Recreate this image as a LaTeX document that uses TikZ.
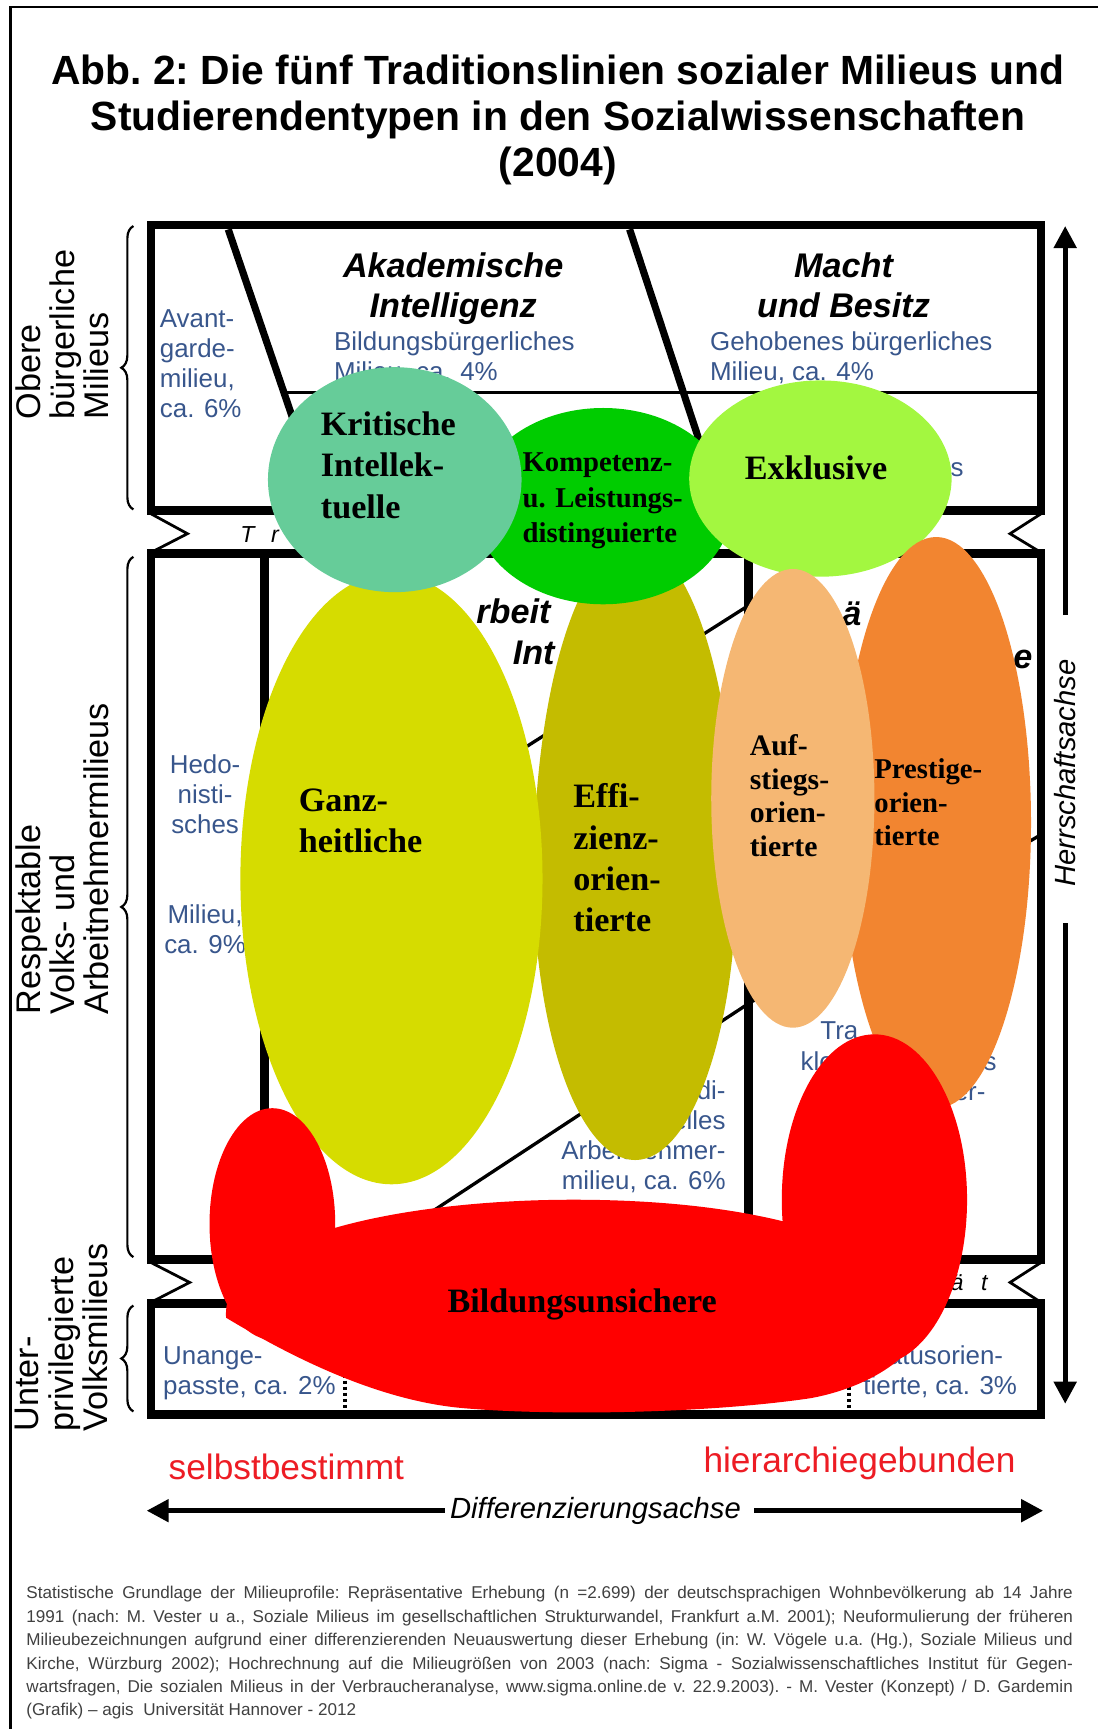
\documentclass[tikz,border=0pt]{standalone}
\usepackage{xcolor}
\usepackage{fontspec}
\usepackage{tikz}
\usetikzlibrary{arrows.meta,decorations.pathreplacing}
\setmainfont{Liberation Sans}
\newfontfamily\typfont{Liberation Serif}

\definecolor{milieublau}{RGB}{56,86,140}
\definecolor{kritisch}{RGB}{102,204,153}
\definecolor{kompetenz}{RGB}{0,204,0}
\definecolor{exklusiv}{RGB}{163,247,64}
\definecolor{ganzheit}{RGB}{214,220,0}
\definecolor{effizienz}{RGB}{196,188,0}
\definecolor{aufstieg}{RGB}{245,183,115}
\definecolor{prestige}{RGB}{242,133,48}
\definecolor{unsicher}{RGB}{255,0,0}
\definecolor{achsrot}{RGB}{237,28,36}

\begin{document}
\begin{tikzpicture}[x=1pt, y=-1pt,
		every node/.style={inner sep=0pt, outer sep=0pt},
		milieu/.style={text=milieublau, font=\fontsize{23.5}{27.3}\selectfont},
		linie/.style={font=\fontsize{31}{36}\selectfont\bfseries\itshape},
		typ/.style={align=left, anchor=base west, font=\typfont\fontsize{31}{37.5}\selectfont\bfseries},
		lager/.style={rotate=90, align=left, anchor=north west, font=\fontsize{31}{31}\selectfont},
		rahmen/.style={line width=8pt},
		trenn/.style={anchor=base west, font=\fontsize{21}{21}\selectfont\itshape},
		klammer/.style={line width=2pt, decorate, decoration={brace, amplitude=11pt}},
		achse/.style={line width=4.5pt, -{Triangle[length=20pt, width=20pt]}}]
	\useasboundingbox (0,0) rectangle (996,1568);
	\draw[line width=2pt] (9.5,1568) -- (9.5,6.5) -- (996,6.5);
	
	\node[align=center, anchor=base, font=\fontsize{37}{41.5}\selectfont\bfseries\frenchspacing] (titel) at (506,160)
		{Abb. 2: Die fünf Traditionslinien sozialer Milieus und\\Studierendentypen in den Sozialwissenschaften\\(2004)};
	
	\draw[rahmen] (137,204) rectangle (944,463);
	\draw[rahmen] (137,502) rectangle (944,1142);
	\draw[rahmen] (137,1182) rectangle (944,1283);
	\draw[line width=6.5pt] (207,208) -- (294,463);
	\draw[line width=6.5pt] (571,208) -- (655,463);
	\draw[line width=2.5pt] (257,356) -- (944,356);
	\draw[rahmen] (240,502) -- (240,1142);
	\draw[rahmen] (679,502) -- (679,1142);
	\draw[line width=3pt] (240,828) -- (679,549);
	\draw[line width=3pt] (326,1142) -- (679,910) -- (944,757);
	\draw[line width=3pt, dash pattern=on 3pt off 2.5pt] (313,1186) -- (313,1280);
	\draw[line width=3pt, dash pattern=on 3pt off 2.5pt] (770,1186) -- (770,1280);
	\draw[line width=2.5pt] (137,466) -- (170,484) -- (137,501);
	\draw[line width=2.5pt] (944,466) -- (916,484) -- (944,501);
	\draw[line width=2.5pt] (137,1145) -- (172,1163) -- (137,1181);
	\draw[line width=2.5pt] (944,1145) -- (916,1163) -- (944,1181);
	
	\node[milieu, align=left, anchor=base west] (avant) at (145,379) {Avant-\\garde-\\milieu,\\ca. 6\%};
	\node[milieu, align=left, anchor=base west] (bildung) at (303,345) {Bildungsbürgerliches\\Milieu, ca. 4\%};
	\node[milieu, align=left, anchor=base west] (gehoben) at (644,345) {Gehobenes bürgerliches\\Milieu, ca. 4\%};
	\node[milieu, anchor=base west] (technokrat) at (862,432) {s};
	\node[milieu, align=center, anchor=base] (hedo) at (186,756) {Hedo-\\nisti-\\sches};
	\node[milieu, align=center, anchor=base] (hedomil) at (186,865) {Milieu,\\ca. 9\%};
	\node[milieu, align=right, anchor=base east] (tradarb) at (658,1079) {Tradi-\\tionelles\\Arbeitnehmer-\\milieu, ca. 6\%};
	\node[milieu, anchor=base west] (klein1) at (744,943) {Tra};
	\node[milieu, anchor=base west] (klein2) at (726,971) {kle};
	\node[milieu, anchor=base west] (klein3) at (892,971) {s};
	\node[milieu, anchor=base west] (klein4) at (865,998) {er-};
	\node[milieu, align=left, anchor=base west] (unange) at (148,1265) {Unange-\\passte, ca. 2\%};
	\node[milieu, align=left, anchor=base west] (status) at (783,1265) {Statusorien-\\tierte, ca. 3\%};
	
	\node[linie, align=center, anchor=base] (akademisch) at (411,288) {Akademische\\Intelligenz};
	\node[linie, align=center, anchor=base] (macht) at (765,288) {Macht\\und Besitz};
	\node[linie, anchor=base west] (facharbeit) at (432,565) {rbeit};
	\node[linie, anchor=base west] (praktisch) at (465,603) {Int};
	\node[linie, anchor=base west] (staendisch) at (764,567) {ä};
	\node[linie, anchor=base west] (volkstrad) at (919,606) {e};
	\node[trenn] (trennoben) at (218,492) {T\hspace{15pt}r};
	\node[trenn] (trennunten) at (862,1170) {ä\hspace{16pt}t};
	
	\fill[effizienz] (484,793) arc[start angle=180, end angle=360, x radius=92, y radius=300]
		arc[start angle=0, end angle=180, x radius=92, y radius=259] -- cycle;
	\fill[ganzheit] (355,797) ellipse [x radius=137, y radius=277];
	\fill[kompetenz] (547,459) ellipse [x radius=117, y radius=89];
	\fill[kritisch] (358,435) ellipse [x radius=115, y radius=102];
	\fill[exklusiv] (744,434) ellipse [x radius=119, y radius=89];
	\fill[prestige] (849,746) ellipse [x radius=86, y radius=259];
	\fill[aufstieg] (719,724) ellipse [x radius=74, y radius=208];
	\fill[unsicher] (247,1110) ellipse [x radius=57, y radius=105];
	\fill[unsicher] (793,1088) ellipse [x radius=84, y radius=150];
	\fill[unsicher] (205,1195) .. controls (200,1120) and (370,1088) .. (520,1088)
		.. controls (680,1088) and (800,1120) .. (840,1180)
		.. controls (845,1225) and (790,1258) .. (735,1268)
		.. controls (640,1282) and (500,1284) .. (420,1277)
		.. controls (340,1270) and (260,1228) .. (205,1195) -- cycle;
	
	\node[typ] (kritische) at (291,470) {Kritische\\Intellek-\\tuelle};
	\node[typ, font=\typfont\fontsize{26}{32}\selectfont\bfseries] (distinguiert) at (474,492) {Kompetenz-\\u. Leistungs-\\distinguierte};
	\node[typ, anchor=base] (exklusive) at (740,435) {Exklusive};
	\node[typ] (ganzheitlich) at (271,773) {Ganz-\\heitliche};
	\node[typ] (effi) at (520,845) {Effi-\\zienz-\\orien-\\tierte};
	\node[typ, font=\typfont\fontsize{27}{30.7}\selectfont\bfseries] (aufstiegs) at (680,777) {Auf-\\stiegs-\\orien-\\tierte};
	\node[typ, font=\typfont\fontsize{26}{30.5}\selectfont\bfseries] (prestigeo) at (793,767) {Prestige-\\orien-\\tierte};
	\node[typ, anchor=base] (unsichere) at (528,1190) {Bildungsunsichere};
	
	\node[lager] (obere) at (14,380) {Obere\\bürgerliche\\Milieus};
	\node[lager] (respekt) at (14,920) {Respektable\\Volks- und\\Arbeitnehmermilieus};
	\node[lager] (unter) at (14,1298) {Unter-\\privilegierte\\Volksmilieus};
	\draw[klammer] (121,462) -- (121,205);
	\draw[klammer] (121,1140) -- (121,505);
	\draw[klammer] (121,1280) -- (121,1184);
	
	\node[rotate=90, font=\fontsize{26.5}{26.5}\selectfont\itshape] (herrschaft) at (966,701) {Herrschaftsachse};
	\coordinate (hoben) at (966,205);
	\coordinate (hunten) at (966,1273);
	\draw[achse] ([yshift=40pt]herrschaft.east) -- (hoben);
	\draw[achse] ([yshift=-33pt]herrschaft.west) -- (hunten);
	
	\node[anchor=base west, text=achsrot, font=\fontsize{32}{32}\selectfont] (selbst) at (153,1342) {selbstbestimmt};
	\node[anchor=base west, text=achsrot, font=\fontsize{32}{32}\selectfont] (hierarchie) at (638,1335) {hierarchiegebunden};
	\node[font=\fontsize{26.5}{26.5}\selectfont\itshape] (differenz) at (540,1370) {Differenzierungsachse};
	\coordinate (dlinks) at (133,1370);
	\coordinate (drechts) at (946,1370);
	\draw[achse] ([xshift=-5pt]differenz.west) -- (dlinks);
	\draw[achse] ([xshift=12pt]differenz.east) -- (drechts);
	
	\node[align=left, anchor=base west, text=black!75, font=\fontsize{15.5}{21.2}\selectfont\frenchspacing] (quelle) at (24,1556)
		{\makebox[949pt][s]{Statistische Grundlage der Milieuprofile: Repräsentative Erhebung (n =2.699) der deutschsprachigen Wohnbevölkerung ab 14 Jahre}\\
		\makebox[949pt][s]{1991 (nach: M. Vester u a., Soziale Milieus im gesellschaftlichen Strukturwandel, Frankfurt a.M. 2001); Neuformulierung der früheren}\\
		\makebox[949pt][s]{Milieubezeichnungen aufgrund einer differenzierenden Neuauswertung dieser Erhebung (in: W. Vögele u.a. (Hg.), Soziale Milieus und}\\
		\makebox[949pt][s]{Kirche, Würzburg 2002); Hochrechnung auf die Milieugrößen von 2003 (nach: Sigma - Sozialwissenschaftliches Institut für Gegen-}\\
		\makebox[949pt][s]{wartsfragen, Die sozialen Milieus in der Verbraucheranalyse, www.sigma.online.de v. 22.9.2003). - M. Vester (Konzept) / D. Gardemin}\\
		(Grafik) – agis\ \ Universität Hannover - 2012};
\end{tikzpicture}
\end{document}
